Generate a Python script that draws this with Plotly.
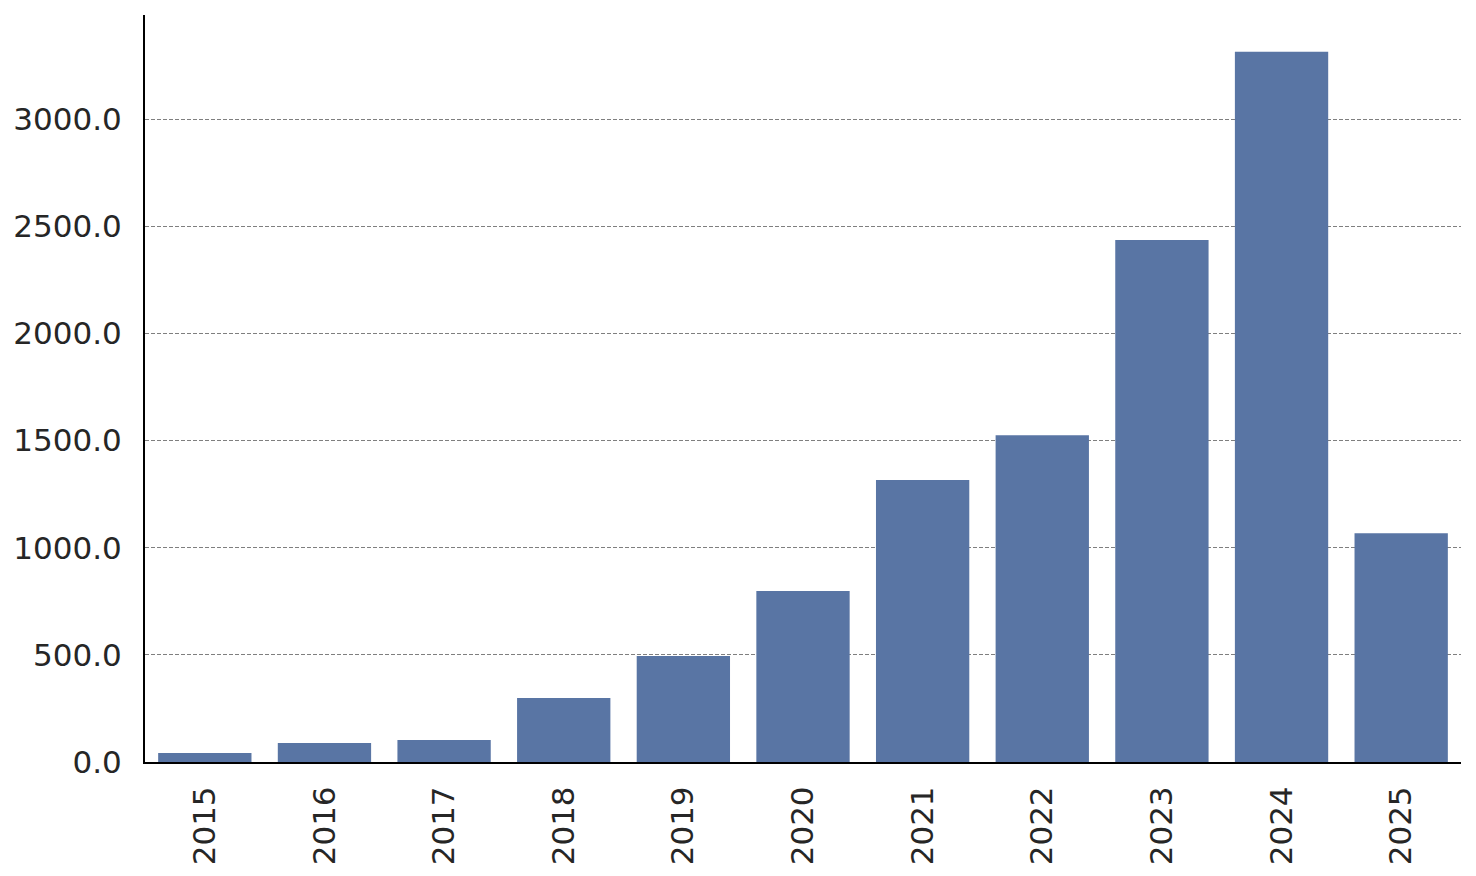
import plotly.graph_objects as go

years = ["2015", "2016", "2017", "2018", "2019", "2020", "2021", "2022", "2023", "2024", "2025"]
values = [42, 89, 103, 299, 495, 798, 1316, 1525, 2436, 3314, 1067]
y_ticks = [0, 500, 1000, 1500, 2000, 2500, 3000]
y_labels = ["0.0", "500.0", "1000.0", "1500.0", "2000.0", "2500.0", "3000.0"]

fig = go.Figure(go.Bar(x=years, y=values, marker=dict(color="#5975a4", line=dict(width=0)), width=0.78))

fig.update_layout(
    width=1468, height=868,
    margin=dict(l=137, r=15, t=7, b=114, autoexpand=False),
    plot_bgcolor="white", paper_bgcolor="white",
    font=dict(family="DejaVu Sans", size=31, color="#262626"),
    showlegend=False,
    xaxis=dict(type="category", range=[-0.5, 10.5], tickangle=-90, showgrid=False,
               showline=True, linecolor="black", linewidth=2, ticks="", ticklabelstandoff=10),
    yaxis=dict(range=[0, 3486], tickvals=y_ticks, ticktext=y_labels, showgrid=True,
               gridcolor="#7f7f7f", griddash="4px,2px", gridwidth=1.2, zeroline=False,
               showline=True, linecolor="black", linewidth=2, ticks="", ticklabelstandoff=15),
)

fig.write_html("out.html")
